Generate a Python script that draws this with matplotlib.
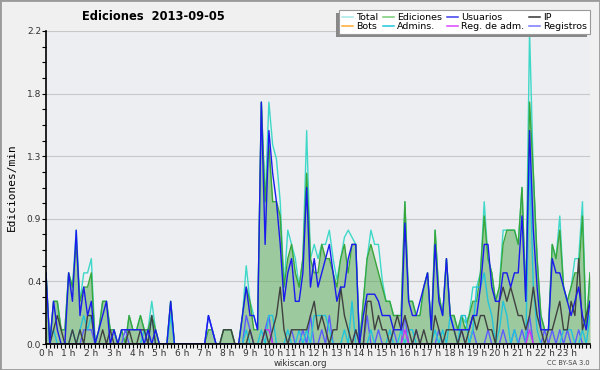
import matplotlib
matplotlib.use('Agg')
import matplotlib.pyplot as plt
import numpy as np
from matplotlib.lines import Line2D
from matplotlib.patches import Rectangle
from matplotlib.ticker import MultipleLocator, FormatStrFormatter

# Edits per minute, one value every 10 minutes (0 h .. 24 h)

total = [
    0.5, 0.0, 0.3, 0.3, 0.1, 0.1,
    0.5, 0.4, 0.8, 0.3, 0.5, 0.5,
    0.6, 0.0, 0.1, 0.3, 0.3, 0.1,
    0.1, 0.0, 0.1, 0.0, 0.2, 0.1,
    0.1, 0.2, 0.1, 0.1, 0.3, 0.1,
    0.0, 0.0, 0.0, 0.3, 0.0, 0.0,
    0.0, 0.0, 0.0, 0.0, 0.0, 0.0,
    0.0, 0.2, 0.1, 0.0, 0.0, 0.1,
    0.1, 0.1, 0.0, 0.0, 0.2, 0.55,
    0.3, 0.2, 0.1, 1.7, 1.0, 1.7,
    1.4, 1.3, 1.0, 0.4, 0.8, 0.7,
    0.6, 0.4, 0.6, 1.5, 0.6, 0.7,
    0.6, 0.7, 0.7, 0.8, 0.6, 0.45,
    0.6, 0.75, 0.8, 0.75, 0.7, 0.0,
    0.3, 0.6, 0.8, 0.7, 0.7, 0.45,
    0.3, 0.3, 0.2, 0.2, 0.2, 1.0,
    0.3, 0.3, 0.2, 0.2, 0.4, 0.5,
    0.1, 0.8, 0.35, 0.2, 0.6, 0.2,
    0.2, 0.1, 0.2, 0.15, 0.2, 0.4,
    0.4, 0.5, 1.0, 0.6, 0.5, 0.3,
    0.4, 0.8, 0.8, 0.8, 0.8, 0.7,
    1.1, 0.3, 2.2, 1.2, 0.6, 0.2,
    0.1, 0.1, 0.7, 0.6, 0.9, 0.4,
    0.3, 0.4, 0.6, 0.6, 1.0, 0.1, 0.5,
]

ediciones = [
    0.5, 0.0, 0.3, 0.3, 0.1, 0.1,
    0.5, 0.4, 0.7, 0.3, 0.4, 0.4,
    0.5, 0.0, 0.1, 0.3, 0.3, 0.1,
    0.1, 0.0, 0.1, 0.0, 0.2, 0.1,
    0.1, 0.2, 0.1, 0.1, 0.2, 0.1,
    0.0, 0.0, 0.0, 0.3, 0.0, 0.0,
    0.0, 0.0, 0.0, 0.0, 0.0, 0.0,
    0.0, 0.1, 0.1, 0.0, 0.0, 0.1,
    0.1, 0.1, 0.0, 0.0, 0.2, 0.4,
    0.3, 0.1, 0.1, 1.7, 1.0, 1.4,
    1.0, 1.0, 0.9, 0.4, 0.6, 0.7,
    0.5, 0.4, 0.6, 1.2, 0.6, 0.5,
    0.5, 0.7, 0.6, 0.6, 0.5, 0.4,
    0.6, 0.7, 0.5, 0.7, 0.7, 0.0,
    0.3, 0.6, 0.7, 0.6, 0.5, 0.4,
    0.3, 0.3, 0.2, 0.2, 0.2, 1.0,
    0.3, 0.3, 0.2, 0.2, 0.4, 0.5,
    0.1, 0.8, 0.35, 0.2, 0.6, 0.2,
    0.2, 0.1, 0.2, 0.1, 0.2, 0.3,
    0.3, 0.5, 0.9, 0.6, 0.5, 0.3,
    0.4, 0.7, 0.8, 0.8, 0.8, 0.7,
    1.1, 0.3, 1.7, 1.2, 0.6, 0.2,
    0.1, 0.1, 0.7, 0.6, 0.8, 0.4,
    0.3, 0.4, 0.5, 0.5, 0.9, 0.1, 0.5,
]

usuarios = [
    0.5, 0.0, 0.3, 0.1, 0.0, 0.0,
    0.5, 0.3, 0.8, 0.2, 0.4, 0.2,
    0.3, 0.0, 0.1, 0.2, 0.3, 0.0,
    0.1, 0.0, 0.1, 0.1, 0.1, 0.1,
    0.1, 0.1, 0.0, 0.1, 0.0, 0.1,
    0.0, 0.0, 0.0, 0.3, 0.0, 0.0,
    0.0, 0.0, 0.0, 0.0, 0.0, 0.0,
    0.0, 0.2, 0.1, 0.0, 0.0, 0.0,
    0.0, 0.0, 0.0, 0.0, 0.2, 0.4,
    0.2, 0.2, 0.1, 1.7, 0.7, 1.5,
    1.2, 1.0, 0.7, 0.3, 0.5, 0.6,
    0.3, 0.3, 0.5, 1.1, 0.4, 0.6,
    0.4, 0.5, 0.6, 0.7, 0.5, 0.3,
    0.4, 0.4, 0.6, 0.7, 0.7, 0.0,
    0.2, 0.35, 0.35, 0.35, 0.3, 0.2,
    0.2, 0.2, 0.1, 0.1, 0.1, 0.85,
    0.3, 0.2, 0.2, 0.3, 0.4, 0.5,
    0.1, 0.7, 0.3, 0.2, 0.6, 0.2,
    0.1, 0.1, 0.1, 0.1, 0.1, 0.2,
    0.2, 0.4, 0.7, 0.7, 0.4, 0.3,
    0.3, 0.5, 0.5, 0.4, 0.5, 0.5,
    0.9, 0.3, 1.5, 0.8, 0.4, 0.1,
    0.1, 0.1, 0.6, 0.5, 0.5, 0.4,
    0.3, 0.2, 0.3, 0.4, 0.2, 0.1, 0.3,
]

ip = [
    0.0, 0.0, 0.1, 0.2, 0.1, 0.0,
    0.0, 0.1, 0.0, 0.1, 0.0, 0.2,
    0.2, 0.0, 0.0, 0.1, 0.0, 0.1,
    0.0, 0.0, 0.0, 0.0, 0.1, 0.0,
    0.0, 0.1, 0.1, 0.0, 0.2, 0.0,
    0.0, 0.0, 0.0, 0.0, 0.0, 0.0,
    0.0, 0.0, 0.0, 0.0, 0.0, 0.0,
    0.0, 0.0, 0.0, 0.0, 0.0, 0.1,
    0.1, 0.1, 0.0, 0.0, 0.0, 0.0,
    0.1, 0.0, 0.0, 0.0, 0.1, 0.0,
    0.1, 0.2, 0.4, 0.1, 0.0, 0.1,
    0.1, 0.1, 0.1, 0.1, 0.2, 0.3,
    0.1, 0.2, 0.1, 0.0, 0.1, 0.1,
    0.4, 0.2, 0.1, 0.0, 0.1, 0.0,
    0.0, 0.3, 0.3, 0.1, 0.2, 0.1,
    0.1, 0.0, 0.1, 0.2, 0.1, 0.2,
    0.1, 0.0, 0.1, 0.0, 0.1, 0.0,
    0.0, 0.2, 0.1, 0.0, 0.1, 0.1,
    0.1, 0.0, 0.1, 0.0, 0.1, 0.2,
    0.1, 0.2, 0.2, 0.1, 0.1, 0.0,
    0.3, 0.4, 0.3, 0.4, 0.3, 0.2,
    0.2, 0.1, 0.2, 0.4, 0.2, 0.1,
    0.0, 0.1, 0.1, 0.2, 0.3, 0.1,
    0.1, 0.3, 0.2, 0.6, 0.1, 0.2, 0.3,
]

bots = [0.0] * 145

admins = [
    0.0, 0.0, 0.1, 0.0, 0.0, 0.0,
    0.0, 0.1, 0.0, 0.1, 0.2, 0.1,
    0.2, 0.0, 0.0, 0.0, 0.0, 0.0,
    0.0, 0.0, 0.0, 0.0, 0.0, 0.0,
    0.0, 0.0, 0.1, 0.0, 0.2, 0.0,
    0.0, 0.0, 0.0, 0.2, 0.0, 0.0,
    0.0, 0.0, 0.0, 0.0, 0.0, 0.0,
    0.0, 0.0, 0.0, 0.0, 0.0, 0.0,
    0.0, 0.0, 0.0, 0.0, 0.0, 0.1,
    0.0, 0.0, 0.0, 0.1, 0.0, 0.2,
    0.2, 0.0, 0.0, 0.0, 0.1, 0.0,
    0.0, 0.1, 0.0, 0.1, 0.0, 0.2,
    0.2, 0.2, 0.2, 0.1, 0.0, 0.0,
    0.0, 0.1, 0.0, 0.3, 0.0, 0.0,
    0.0, 0.0, 0.1, 0.0, 0.0, 0.0,
    0.0, 0.1, 0.0, 0.0, 0.1, 0.0,
    0.1, 0.1, 0.0, 0.0, 0.0, 0.0,
    0.0, 0.1, 0.0, 0.1, 0.0, 0.2,
    0.1, 0.0, 0.2, 0.2, 0.0, 0.1,
    0.4, 0.4, 0.5, 0.3, 0.2, 0.0,
    0.1, 0.3, 0.2, 0.0, 0.1, 0.0,
    0.0, 0.0, 1.3, 0.4, 0.1, 0.0,
    0.0, 0.0, 0.0, 0.0, 0.0, 0.1,
    0.1, 0.1, 0.0, 0.0, 0.1, 0.0, 0.2,
]

reg_adm = [
    0.0, 0.0, 0.0, 0.0, 0.0, 0.0,
    0.0, 0.0, 0.0, 0.0, 0.0, 0.0,
    0.0, 0.0, 0.0, 0.0, 0.0, 0.0,
    0.0, 0.0, 0.0, 0.0, 0.0, 0.0,
    0.0, 0.0, 0.0, 0.0, 0.0, 0.0,
    0.0, 0.0, 0.0, 0.0, 0.0, 0.0,
    0.0, 0.0, 0.0, 0.0, 0.0, 0.0,
    0.0, 0.0, 0.0, 0.0, 0.0, 0.0,
    0.0, 0.0, 0.0, 0.0, 0.0, 0.0,
    0.0, 0.0, 0.0, 0.0, 0.1, 0.1,
    0.0, 0.0, 0.0, 0.0, 0.0, 0.0,
    0.0, 0.0, 0.0, 0.0, 0.0, 0.0,
    0.0, 0.0, 0.0, 0.0, 0.0, 0.0,
    0.0, 0.0, 0.0, 0.0, 0.0, 0.0,
    0.0, 0.0, 0.0, 0.0, 0.0, 0.0,
    0.0, 0.0, 0.0, 0.0, 0.0, 0.1,
    0.0, 0.0, 0.0, 0.0, 0.0, 0.0,
    0.0, 0.0, 0.0, 0.0, 0.0, 0.0,
    0.0, 0.0, 0.0, 0.0, 0.0, 0.0,
    0.0, 0.0, 0.0, 0.0, 0.0, 0.0,
    0.0, 0.0, 0.0, 0.0, 0.0, 0.0,
    0.0, 0.0, 0.1, 0.0, 0.0, 0.0,
    0.0, 0.0, 0.0, 0.0, 0.0, 0.0,
    0.0, 0.0, 0.0, 0.0, 0.0, 0.0, 0.0,
]

registros = [
    0.0, 0.0, 0.0, 0.0, 0.0, 0.0,
    0.0, 0.0, 0.0, 0.0, 0.1, 0.1,
    0.1, 0.0, 0.0, 0.0, 0.0, 0.0,
    0.0, 0.0, 0.0, 0.1, 0.0, 0.0,
    0.0, 0.0, 0.0, 0.0, 0.0, 0.0,
    0.0, 0.0, 0.0, 0.0, 0.0, 0.0,
    0.0, 0.0, 0.0, 0.0, 0.0, 0.0,
    0.0, 0.2, 0.1, 0.0, 0.0, 0.0,
    0.0, 0.0, 0.0, 0.0, 0.0, 0.2,
    0.1, 0.0, 0.0, 0.0, 0.1, 0.2,
    0.0, 0.0, 0.0, 0.0, 0.0, 0.1,
    0.0, 0.0, 0.1, 0.0, 0.2, 0.0,
    0.0, 0.1, 0.0, 0.2, 0.0, 0.0,
    0.0, 0.0, 0.0, 0.0, 0.1, 0.0,
    0.0, 0.2, 0.0, 0.0, 0.1, 0.0,
    0.0, 0.0, 0.1, 0.0, 0.0, 0.2,
    0.0, 0.0, 0.1, 0.0, 0.0, 0.0,
    0.0, 0.0, 0.1, 0.0, 0.0, 0.0,
    0.0, 0.0, 0.1, 0.0, 0.0, 0.1,
    0.0, 0.0, 0.0, 0.1, 0.0, 0.0,
    0.0, 0.1, 0.0, 0.0, 0.1, 0.0,
    0.1, 0.0, 0.2, 0.0, 0.0, 0.0,
    0.1, 0.0, 0.1, 0.0, 0.1, 0.0,
    0.1, 0.0, 0.0, 0.1, 0.0, 0.0, 0.0,
]

hour_labels = [f"{h} h" for h in range(24)]
hours = np.arange(len(total)) / 6

# Colors
c_total = '#3fd8c8'
c_edits = '#3aa63a'
c_users = '#1a1aee'
c_ip = '#404040'
c_bots = '#ffaa33'
c_admins = '#22c4dc'
c_regadm = '#cc33ee'
c_regs = '#5c5cff'

fig = plt.figure(figsize=(6, 3.7), dpi=100, facecolor='#f0f0f0')
ax = fig.add_axes([46 / 600, 1 - 344 / 370, 544 / 600, 313 / 370])
ax.set_facecolor('#eceef1')

# Draw series
ax.plot(hours, bots, color=c_bots, lw=1, zorder=2)
ax.fill_between(hours, ediciones, color='#5aac5a', alpha=0.55, lw=0, zorder=2)
ax.plot(hours, total, color=c_total, lw=1, zorder=3)
ax.plot(hours, ediciones, color=c_edits, lw=1, zorder=3)
ax.plot(hours, registros, color=c_regs, lw=1, zorder=4)
ax.plot(hours, admins, color=c_admins, lw=1, zorder=4)
ax.plot(hours, reg_adm, color=c_regadm, lw=1, zorder=4)
ax.plot(hours, ip, color=c_ip, lw=1, zorder=5)
ax.plot(hours, usuarios, color=c_users, lw=1, zorder=6)

# Axes
ax.set_xlim(0, 24)
ax.set_ylim(0, 2.2)
ax.set_xticks(range(24))
ax.set_xticklabels(hour_labels)
ax.xaxis.set_minor_locator(MultipleLocator(1 / 6))
ax.set_yticks(np.linspace(0, 2.2, 6))
ax.yaxis.set_major_formatter(FormatStrFormatter('%.1f'))
ax.yaxis.set_minor_locator(MultipleLocator(0.11))
ax.tick_params(axis='both', which='major', direction='out', length=3, width=0.8,
               labelsize=6.5, labelcolor='#333333', pad=0.5)
ax.tick_params(axis='both', which='minor', direction='out', length=3, width=0.8)
for side in ['top', 'right']:
    ax.spines[side].set_visible(False)
for side in ['left', 'bottom']:
    ax.spines[side].set_linewidth(1.2)
    ax.spines[side].set_zorder(10)
ax.yaxis.grid(True, color='#c8c8c8', lw=0.8)
ax.set_axisbelow(True)
ax.set_ylabel('Ediciones/min', family='DejaVu Sans Mono', fontsize=8, labelpad=7)

# Title and footers
fig.text(153 / 600, 1 - 17 / 370, 'Ediciones  2013-09-05', ha='center', va='center',
         fontsize=8.3, fontweight='bold')
fig.text(0.5, 1 - 363 / 370, 'wikiscan.org', ha='center', va='center',
         fontsize=6.2, color='#333333')
fig.text(0.983, 1 - 363 / 370, 'CC BY-SA 3.0', ha='right', va='center',
         fontsize=4.8, color='#444444')

# Legend (row-major order in the picture)
labels = ['Total', 'Bots', 'Ediciones', 'Admins.', 'Usuarios', 'Reg. de adm.', 'IP', 'Registros']
leg_colors = ['#a8e8e8', c_bots, '#77cc77', c_admins, '#3a3aee', '#dd44ff', '#333333', '#7878ff']
handles = [Line2D([], [], color=c, lw=1.1) for c in leg_colors]
leg = fig.legend(handles, labels, ncol=4, loc='upper right',
                 bbox_to_anchor=(590 / 600, 1 - 10 / 370), fontsize=6.8,
                 frameon=True, fancybox=False, edgecolor='#999999',
                 handlelength=1.2, handletextpad=0.3, columnspacing=0.5,
                 labelspacing=0.05, borderpad=0.3, borderaxespad=0)
leg.get_frame().set_linewidth(0.8)
leg.get_frame().set_alpha(1)
leg.set_zorder(6)

# Legend shadow, offset to the lower left
fig.canvas.draw()
bb = leg.get_window_extent().transformed(fig.transFigure.inverted())
fig.add_artist(Rectangle((bb.x0 - 3 / 600, bb.y0 - 3 / 370), bb.width, bb.height,
                         transform=fig.transFigure, facecolor='#888888',
                         edgecolor='none', zorder=5))

# Outer border
fig.patches.append(Rectangle((0, 0), 1, 1, transform=fig.transFigure, fill=False,
                             edgecolor='#9a9a9a', lw=2))

fig.savefig('out.png', dpi=100, facecolor=fig.get_facecolor())
